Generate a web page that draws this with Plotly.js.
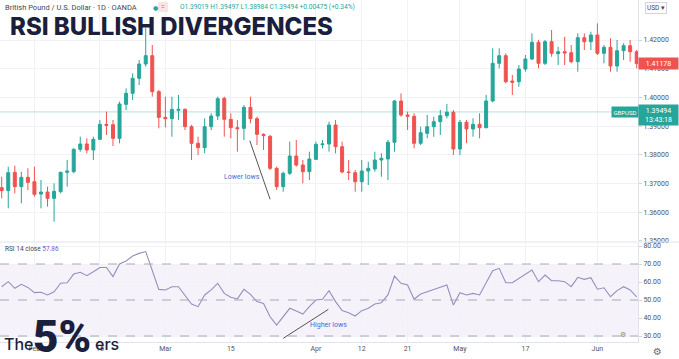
<!DOCTYPE html>
<html>
<head>
<meta charset="utf-8">
<script src="https://cdn.plot.ly/plotly-3.0.1.min.js"></script>
<style>
html,body{margin:0;padding:0;background:#fff;}
#chart{width:679px;height:359px;}
</style>
</head>
<body>
<div id="chart"></div>
<script>
// ---------- DATA ----------
const dates = [
 '2021-01-25','2021-01-26','2021-01-27','2021-01-28','2021-01-29',
 '2021-02-01','2021-02-02','2021-02-03','2021-02-04','2021-02-05',
 '2021-02-08','2021-02-09','2021-02-10','2021-02-11','2021-02-12',
 '2021-02-15','2021-02-16','2021-02-17','2021-02-18','2021-02-19',
 '2021-02-22','2021-02-23','2021-02-24','2021-02-25','2021-02-26',
 '2021-03-01','2021-03-02','2021-03-03','2021-03-04','2021-03-05',
 '2021-03-08','2021-03-09','2021-03-10','2021-03-11','2021-03-12',
 '2021-03-15','2021-03-16','2021-03-17','2021-03-18','2021-03-19',
 '2021-03-22','2021-03-23','2021-03-24','2021-03-25','2021-03-26',
 '2021-03-29','2021-03-30','2021-03-31','2021-04-01','2021-04-02',
 '2021-04-05','2021-04-06','2021-04-07','2021-04-08','2021-04-09',
 '2021-04-12','2021-04-13','2021-04-14','2021-04-15','2021-04-16',
 '2021-04-19','2021-04-20','2021-04-21','2021-04-22','2021-04-23',
 '2021-04-26','2021-04-27','2021-04-28','2021-04-29','2021-04-30',
 '2021-05-03','2021-05-04','2021-05-05','2021-05-06','2021-05-07',
 '2021-05-10','2021-05-11','2021-05-12','2021-05-13','2021-05-14',
 '2021-05-17','2021-05-18','2021-05-19','2021-05-20','2021-05-21',
 '2021-05-24','2021-05-25','2021-05-26','2021-05-27','2021-05-28',
 '2021-05-31','2021-06-01','2021-06-02','2021-06-03','2021-06-04',
 '2021-06-07','2021-06-08','2021-06-09'
];
const openP = [
 1.36855,1.36751,1.37389,1.36890,1.37215,1.37064,1.36634,1.36704,1.36483,1.36716,
 1.37389,1.37413,1.38191,1.38377,1.38168,1.38539,1.39062,1.39050,1.38574,1.39759,
 1.40142,1.40665,1.41164,1.41454,1.40200,1.39306,1.39259,1.39550,1.39584,1.38981,
 1.38400,1.38249,1.38981,1.39352,1.39968,1.39236,1.38946,1.38922,1.39654,1.39259,
 1.38713,1.38644,1.37529,1.36890,1.37355,1.37958,1.37645,1.37413,1.37842,1.38353,
 1.38377,1.39039,1.38283,1.37401,1.37377,1.37063,1.37436,1.37506,1.37819,1.37854,
 1.38436,1.39875,1.39387,1.39342,1.38401,1.38749,1.38979,1.39154,1.39363,1.39481,
 1.38202,1.39133,1.38899,1.39063,1.38945,1.39875,1.41188,1.41453,1.40572,1.40547,
 1.40990,1.41338,1.41920,1.41188,1.41941,1.41523,1.41593,1.41558,1.41244,1.42080,
 1.41941,1.42174,1.41537,1.41746,1.41094,1.41627,1.41802,1.41593
];
const highP = [
 1.37238,1.37587,1.37622,1.37413,1.37529,1.37587,1.37122,1.36890,1.37006,1.37413,
 1.37819,1.38226,1.38632,1.38574,1.38632,1.39213,1.39503,1.39213,1.39852,1.40316,
 1.40839,1.41303,1.42418,1.41826,1.40258,1.40026,1.40026,1.40084,1.39619,1.39039,
 1.38632,1.39271,1.39445,1.40026,1.40026,1.39445,1.39213,1.39735,1.40026,1.39329,
 1.38748,1.38690,1.37587,1.37413,1.38458,1.38516,1.37819,1.38109,1.38458,1.38516,
 1.39155,1.39213,1.38457,1.37819,1.37471,1.37819,1.37760,1.38108,1.38053,1.38516,
 1.39910,1.40143,1.39502,1.39446,1.38979,1.39387,1.39328,1.39561,1.39770,1.39561,
 1.39213,1.39213,1.39272,1.39446,1.40084,1.41711,1.41711,1.41537,1.40781,1.41129,
 1.41478,1.42234,1.42000,1.42000,1.42349,1.41767,1.42115,1.41826,1.42234,1.42234,
 1.42289,1.42582,1.41826,1.42060,1.42000,1.41885,1.42000,1.41652
];
const lowP = [
 1.36483,1.36135,1.36658,1.36309,1.36774,1.36542,1.36135,1.36193,1.35671,1.36658,
 1.36890,1.37355,1.38109,1.38051,1.37819,1.38516,1.38690,1.38307,1.38400,1.39561,
 1.39910,1.40432,1.41071,1.40026,1.38922,1.38957,1.38632,1.39213,1.38864,1.37819,
 1.37993,1.38051,1.38864,1.39213,1.38632,1.38574,1.38109,1.38516,1.39097,1.38342,
 1.38168,1.37471,1.36774,1.36716,1.37296,1.37587,1.37006,1.37122,1.37819,1.38226,
 1.38109,1.38051,1.37356,1.37122,1.36715,1.36715,1.36948,1.37411,1.37237,1.37122,
 1.38108,1.39328,1.38864,1.38227,1.38342,1.38575,1.38631,1.38690,1.39272,1.37993,
 1.37993,1.38401,1.38631,1.38575,1.38924,1.39830,1.41014,1.40492,1.40084,1.40373,
 1.40896,1.41303,1.41014,1.41129,1.41418,1.41129,1.41129,1.41188,1.40896,1.41652,
 1.41652,1.41478,1.41188,1.40896,1.40896,1.41303,1.41244,1.41014
];
const closeP = [
 1.36751,1.37378,1.36890,1.37215,1.37041,1.36623,1.36704,1.36483,1.36727,1.37389,
 1.37436,1.38191,1.38377,1.38168,1.38539,1.39062,1.39027,1.38574,1.39770,1.40142,
 1.40665,1.41164,1.41454,1.40200,1.39306,1.39259,1.39584,1.39584,1.38981,1.38400,
 1.38249,1.38981,1.39352,1.39956,1.39236,1.38946,1.38911,1.39654,1.39259,1.38713,
 1.38667,1.37529,1.36890,1.37355,1.37958,1.37645,1.37413,1.37854,1.38365,1.38377,
 1.39039,1.38284,1.37401,1.37384,1.37063,1.37436,1.37530,1.37819,1.37878,1.38436,
 1.39875,1.39387,1.39342,1.38401,1.38770,1.38979,1.39154,1.39363,1.39481,1.38202,
 1.39133,1.38899,1.39063,1.38945,1.39875,1.41188,1.41453,1.40547,1.40526,1.40990,
 1.41338,1.41920,1.41188,1.41941,1.41537,1.41593,1.41547,1.41244,1.42080,1.41941,
 1.42174,1.41537,1.41746,1.41094,1.41627,1.41802,1.41593,1.41178
];
const rsi = [
 57.4,60.2,56.5,58.7,57.0,54.1,54.3,52.8,54.6,59.3,
 59.6,64.4,65.4,63.5,65.7,68.1,68.1,63.0,70.0,71.7,
 74.4,75.9,76.9,66.3,55.9,55.6,57.4,57.4,52.8,47.8,
 46.3,52.8,55.6,59.3,53.7,51.5,50.6,55.9,53.1,49.1,
 48.1,40.7,36.1,40.7,45.4,43.9,42.2,46.3,50.0,50.4,
 55.2,49.1,44.1,42.9,41.1,44.1,45.4,47.8,48.5,52.8,
 63.3,59.3,58.3,50.4,53.3,54.6,55.9,57.4,58.3,47.2,
 54.1,52.8,53.7,52.8,59.8,66.3,67.6,59.6,59.6,62.0,
 63.9,66.7,60.2,63.9,60.7,60.7,60.2,57.4,62.6,61.5,
 62.4,56.0,56.8,51.8,55.2,57.4,55.6,51.8
];
const tickDates = ['2021-02-01','2021-02-15','2021-03-01','2021-03-15','2021-04-01','2021-04-12','2021-04-21','2021-05-03','2021-05-17','2021-06-01'];
const tickLabels = ['Feb','15','Mar','15','Apr','12','21','May','17','Jun'];
const priceTicks = [1.35,1.36,1.37,1.38,1.39,1.40,1.41,1.42];
const rsiTicks = [30,40,50,60,70,80];
const rsiLevels = [70,50,30];
const lastPrice = 1.39494;
const headerText = 'British Pound / U.S. Dollar · 1D · OANDA';
const ohlcText = 'O1.39019 H1.39497 L1.38984 C1.39494 +0.00475 (+0.34%)';
const rsiValueText = '57.86';
const lowerLowsLine = {x:[37.9,41.0], y:[1.38492,1.36450]};
const higherLowsLine = {x:[43.0,49.9], y:[28.7,44.8]};

// ---------- LAYOUT HELPERS ----------
const W = 679, H = 359, MR = 41, MB = 17;
const PW = W - MR, PH = H - MB;
const px = v => v / PW;
const py = v => (PH - v) / PH;
const GREEN = '#26a69a', RED = '#ef5350';
const FONT = 'Roboto, "Liberation Sans", sans-serif';

const candles = {
  type: 'candlestick', x: dates, open: openP, high: highP, low: lowP, close: closeP,
  xaxis: 'x', yaxis: 'y',
  increasing: {line: {color: GREEN, width: 1}, fillcolor: GREEN},
  decreasing: {line: {color: RED, width: 1}, fillcolor: RED},
  whiskerwidth: 0, hoverinfo: 'skip', showlegend: false
};
const rsiTrace = {
  type: 'scatter', mode: 'lines', x: dates, y: rsi, xaxis: 'x', yaxis: 'y2',
  line: {color: '#958fbf', width: 1.1}, hoverinfo: 'skip', showlegend: false
};

const shapes = [
  {type:'rect', xref:'paper', yref:'y2', x0:0, x1:1, y0:30, y1:70, fillcolor:'rgba(126,87,194,0.08)', line:{width:0}, layer:'below'},
  {type:'line', xref:'paper', yref:'paper', x0:0, x1:1 + 41/PW, y0:py(242), y1:py(242), line:{color:'#e0e3eb', width:1}},
  {type:'line', xref:'paper', yref:'y', x0:0, x1:1, y0:lastPrice, y1:lastPrice, line:{color:'rgba(38,166,154,0.35)', width:1}},
  {type:'line', xref:'x', yref:'y', x0:lowerLowsLine.x[0], x1:lowerLowsLine.x[1], y0:lowerLowsLine.y[0], y1:lowerLowsLine.y[1], line:{color:'#555', width:1}},
  {type:'line', xref:'x', yref:'y2', x0:higherLowsLine.x[0], x1:higherLowsLine.x[1], y0:higherLowsLine.y[0], y1:higherLowsLine.y[1], line:{color:'#555', width:1}},
  {type:'rect', xref:'paper', yref:'paper', x0:px(158), x1:px(168), y0:py(12), y1:py(2), fillcolor:'#fde3e3', line:{width:0}}
];
rsiLevels.forEach(l => shapes.push({type:'line', xref:'paper', yref:'y2', x0:0, x1:1, y0:l, y1:l, line:{color:'#a8a8b6', width:1, dash:'dash'}}));

const ann = [];
function A(o){ ann.push(Object.assign({showarrow:false, xref:'paper', yref:'paper'}, o)); }
A({x:px(3), y:py(7), xanchor:'left', yanchor:'middle', text:headerText, font:{family:FONT, size:7.5, color:'#434651'}});
A({x:px(155), y:py(7), xanchor:'center', yanchor:'middle', text:'●', font:{family:'DejaVu Sans', size:6, color:GREEN}});
A({x:px(163), y:py(7), xanchor:'center', yanchor:'middle', text:'=', font:{family:FONT, size:7, color:RED}});
A({x:px(178), y:py(7), xanchor:'left', yanchor:'middle', text:ohlcText, font:{family:FONT, size:6.6, color:GREEN}});
A({x:px(8), y:py(26), xanchor:'left', yanchor:'middle', text:'RSI BULLISH DIVERGENCES', font:{family:'Inter', size:24, weight:800, color:'#1b1e3c'}});
A({x:px(3), y:py(249), xanchor:'left', yanchor:'middle', text:'RSI 14 close <span style="color:#7e57c2">'+rsiValueText+'</span>', font:{family:FONT, size:6.5, color:'#434651'}});
A({x:px(242), y:py(177), xanchor:'center', yanchor:'middle', text:'Lower lows', font:{family:FONT, size:7, color:'#4a6cd4'}});
A({x:px(328), y:py(325), xanchor:'center', yanchor:'middle', text:'Higher lows', font:{family:FONT, size:7, color:'#4a6cd4'}});
A({x:px(656), y:py(8), xanchor:'center', yanchor:'middle', text:'USD ▾', font:{family:FONT, size:6.5, color:'#434651'}, bordercolor:'#d1d4dc', borderwidth:1, borderpad:1, bgcolor:'#fff'});
A({x:px(659), yref:'y', y:closeP[closeP.length-1], xanchor:'center', yanchor:'middle', text:closeP[closeP.length-1].toFixed(5), font:{family:FONT, size:7, color:'#fff'}, bgcolor:RED, borderpad:1.5, width:36});
A({x:px(625), yref:'y', y:lastPrice, xanchor:'center', yanchor:'middle', text:'GBPUSD', font:{family:FONT, size:6, color:'#fff'}, bgcolor:GREEN, borderpad:1.5});
A({x:px(659), y:py(104), xanchor:'center', yanchor:'top', text:lastPrice.toFixed(5)+'<br>13:43:18', font:{family:FONT, size:7, color:'#fff'}, bgcolor:GREEN, borderpad:1.5, width:36});
A({x:px(657), y:py(351), xanchor:'center', yanchor:'middle', text:'⚙', font:{family:'DejaVu Sans', size:10, color:'#6a6d78'}});
A({x:px(623), y:py(335), xanchor:'center', yanchor:'middle', text:'⚙', font:{family:'DejaVu Sans', size:7, color:'#888'}});
// logo
A({x:px(2), y:py(344), xanchor:'left', yanchor:'middle', text:'The', font:{family:'Inter', size:16, weight:500, color:'#1b1e3c'}});
A({x:px(31), y:py(337), xanchor:'left', yanchor:'middle', text:'5%', font:{family:'Roboto', size:44, weight:900, color:'#1b1e3c'}});
A({x:px(93), y:py(344), xanchor:'left', yanchor:'middle', text:'ers', font:{family:'Inter', size:16, weight:500, color:'#1b1e3c'}});

const layout = {
  width: W, height: H,
  margin: {l:0, r:MR, t:0, b:MB, pad:0},
  paper_bgcolor:'#fff', plot_bgcolor:'#fff',
  showlegend:false, boxgap:0.35,
  font:{family:FONT, color:'#555'},
  xaxis: {
    type:'category', range:[-0.26, 97.2], anchor:'y2',
    tickmode:'array', tickvals:tickDates, ticktext:tickLabels,
    tickfont:{size:7, color:'#555'}, ticks:'', showgrid:true, gridcolor:'#f0f2f7', gridwidth:1,
    showline:true, linecolor:'#e0e3eb', linewidth:1, zeroline:false,
    rangeslider:{visible:false}, fixedrange:true
  },
  yaxis: {
    domain:[py(241), 1], range:[1.34997, 1.43394], side:'right', anchor:'x',
    tickmode:'array', tickvals:priceTicks, ticktext:priceTicks.map(v=>v.toFixed(5)),
    tickfont:{size:7, color:'#555'}, ticks:'outside', ticklen:3, tickcolor:'#d1d4dc',
    showgrid:true, gridcolor:'#f0f2f7', showline:true, linecolor:'#e0e3eb', zeroline:false
  },
  yaxis2: {
    domain:[0, py(243)], range:[26.67, 81.67], side:'right', anchor:'x',
    tickmode:'array', tickvals:rsiTicks, ticktext:rsiTicks.map(v=>v.toFixed(2)),
    tickfont:{size:7, color:'#555'}, ticks:'outside', ticklen:3, tickcolor:'#d1d4dc',
    showgrid:true, gridcolor:'#f0f2f7', showline:true, linecolor:'#e0e3eb', zeroline:false
  },
  shapes: shapes,
  annotations: ann
};

Plotly.newPlot('chart', [candles, rsiTrace], layout, {staticPlot:true, displayModeBar:false});
</script>
</body>
</html>
